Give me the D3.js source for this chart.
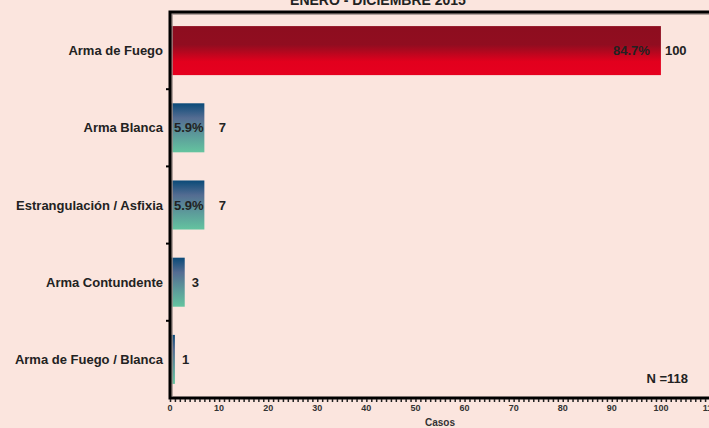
<!DOCTYPE html>
<html>
<head>
<meta charset="utf-8">
<script src="https://cdn.jsdelivr.net/npm/d3@7"></script>
<style>
  body { margin: 0; background: #fbe5de; }
  svg { display: block; font-family: 'Liberation Sans', Arial, sans-serif; }
</style>
</head>
<body>
<div id="chart"></div>
<script>
const WIDTH = 709;
const HEIGHT = 428;
const PLOT_LEFT = 170;
const PLOT_RIGHT = 710;
const PLOT_TOP = 12;
const PLOT_BOTTOM = 398;

const categories = ['Arma de Fuego', 'Arma Blanca', 'Estrangulación / Asfixia', 'Arma Contundente', 'Arma de Fuego / Blanca'];
const values = [100, 7, 7, 3, 1];
const percents = ['84.7%', '5.9%', '5.9%', null, null];
const xTicks = [0, 10, 20, 30, 40, 50, 60, 70, 80, 90, 100, 110];
const total = 'N =118';

const svg = d3.select('#chart')
  .append('svg')
  .attr('width', WIDTH)
  .attr('height', HEIGHT);

// gradients for the bars
const defs = svg.append('defs');
const red = defs.append('linearGradient').attr('id', 'gRed')
  .attr('x1', 0).attr('y1', 0).attr('x2', 0).attr('y2', 1);
[[0, '#8d0d1f'], [0.38, '#910d20'], [0.72, '#e2001d'], [1, '#e6001f']]
  .forEach(s => red.append('stop').attr('offset', s[0]).attr('stop-color', s[1]));
const teal = defs.append('linearGradient').attr('id', 'gTeal')
  .attr('x1', 0).attr('y1', 0).attr('x2', 0).attr('y2', 1);
[[0, '#0a4a78'], [0.3, '#546c92'], [0.65, '#5c9a9a'], [1, '#64c49f']]
  .forEach(s => teal.append('stop').attr('offset', s[0]).attr('stop-color', s[1]));

const x = d3.scaleLinear()
  .domain([0, 110])
  .range([PLOT_LEFT, PLOT_RIGHT]);

const y = d3.scaleBand()
  .domain(categories)
  .range([PLOT_TOP, PLOT_BOTTOM])
  .paddingInner(0.365)
  .paddingOuter(0.1825);

// title (mostly cut off at the top)
svg.append('text')
  .attr('x', 378)
  .attr('y', 5)
  .attr('text-anchor', 'middle')
  .attr('font-size', 14)
  .attr('font-weight', 'bold')
  .attr('fill', '#222')
  .text('ENERO - DICIEMBRE 2015');

// bars
svg.selectAll('rect.bar')
  .data(values)
  .enter()
  .append('rect')
  .attr('class', 'bar')
  .attr('x', x(0) + 1)
  .attr('y', (d, i) => y(categories[i]))
  .attr('width', d => x(d) - x(0) - 1)
  .attr('height', y.bandwidth())
  .attr('fill', (d, i) => i === 0 ? 'url(#gRed)' : 'url(#gTeal)');

// percent labels inside bars, then the counts
values.forEach((v, i) => {
  const cy = y(categories[i]) + y.bandwidth() / 2 + 4.5;
  let endX = x(v) + 7;
  if (percents[i]) {
    const wide = x(v) - x(0) > 80;
    const t = svg.append('text')
      .attr('x', wide ? x(v) - 11 : x(0) + 4)
      .attr('y', cy)
      .attr('text-anchor', wide ? 'end' : 'start')
      .attr('font-size', 13)
      .attr('font-weight', 'bold')
      .attr('fill', '#222')
      .text(percents[i]);
    const w = t.node().getComputedTextLength();
    endX = (wide ? x(v) - 11 : x(0) + 4 + w) + 15;
  }
  svg.append('text')
    .attr('x', endX)
    .attr('y', cy)
    .attr('font-size', 13)
    .attr('font-weight', 'bold')
    .attr('fill', '#222')
    .text(v);
});

// category labels
svg.selectAll('text.cat')
  .data(categories)
  .enter()
  .append('text')
  .attr('class', 'cat')
  .attr('x', 163)
  .attr('y', d => y(d) + y.bandwidth() / 2 + 4.5)
  .attr('text-anchor', 'end')
  .attr('font-size', 13)
  .attr('font-weight', 'bold')
  .attr('fill', '#222')
  .text(d => d);

// left ticks sit between categories
svg.selectAll('line.ytick')
  .data(categories.slice(1))
  .enter()
  .append('line')
  .attr('class', 'ytick')
  .attr('x1', PLOT_LEFT - 4)
  .attr('x2', PLOT_LEFT)
  .attr('y1', d => y(d) - y.step() * y.paddingInner() / 2)
  .attr('y2', d => y(d) - y.step() * y.paddingInner() / 2)
  .attr('stroke', '#000')
  .attr('stroke-width', 2);

// frame with a faint shadow
svg.append('path')
  .attr('d', `M${PLOT_LEFT + 2},${PLOT_BOTTOM - 2}V${PLOT_TOP + 2}H${PLOT_RIGHT + 5}`)
  .attr('fill', 'none')
  .attr('stroke', '#9a8c88')
  .attr('stroke-width', 1.5);
svg.append('path')
  .attr('d', `M${PLOT_RIGHT + 5},${PLOT_BOTTOM}H${PLOT_LEFT}V${PLOT_TOP}H${PLOT_RIGHT + 5}`)
  .attr('fill', 'none')
  .attr('stroke', '#000')
  .attr('stroke-width', 3);

// x axis: minor ticks every unit, labels every 10
const xAxis = d3.axisBottom(x)
  .tickValues(d3.range(0, 111))
  .tickSize(3)
  .tickFormat('');
svg.append('g')
  .attr('transform', `translate(0, ${PLOT_BOTTOM + 1})`)
  .call(xAxis)
  .call(g => g.select('.domain').remove())
  .call(g => g.selectAll('line').attr('stroke', '#222').attr('stroke-width', 1.5));

svg.selectAll('text.xlab')
  .data(xTicks)
  .enter()
  .append('text')
  .attr('class', 'xlab')
  .attr('x', d => x(d))
  .attr('y', 411)
  .attr('text-anchor', 'middle')
  .attr('font-size', 9)
  .attr('font-weight', 'bold')
  .attr('fill', '#333')
  .text(d => d);

svg.append('text')
  .attr('x', x(55))
  .attr('y', 426)
  .attr('text-anchor', 'middle')
  .attr('font-size', 10)
  .attr('font-weight', 'bold')
  .attr('fill', '#333')
  .text('Casos');

svg.append('text')
  .attr('x', 688)
  .attr('y', 383)
  .attr('text-anchor', 'end')
  .attr('font-size', 13)
  .attr('font-weight', 'bold')
  .attr('fill', '#222')
  .text(total);
</script>
</body>
</html>
